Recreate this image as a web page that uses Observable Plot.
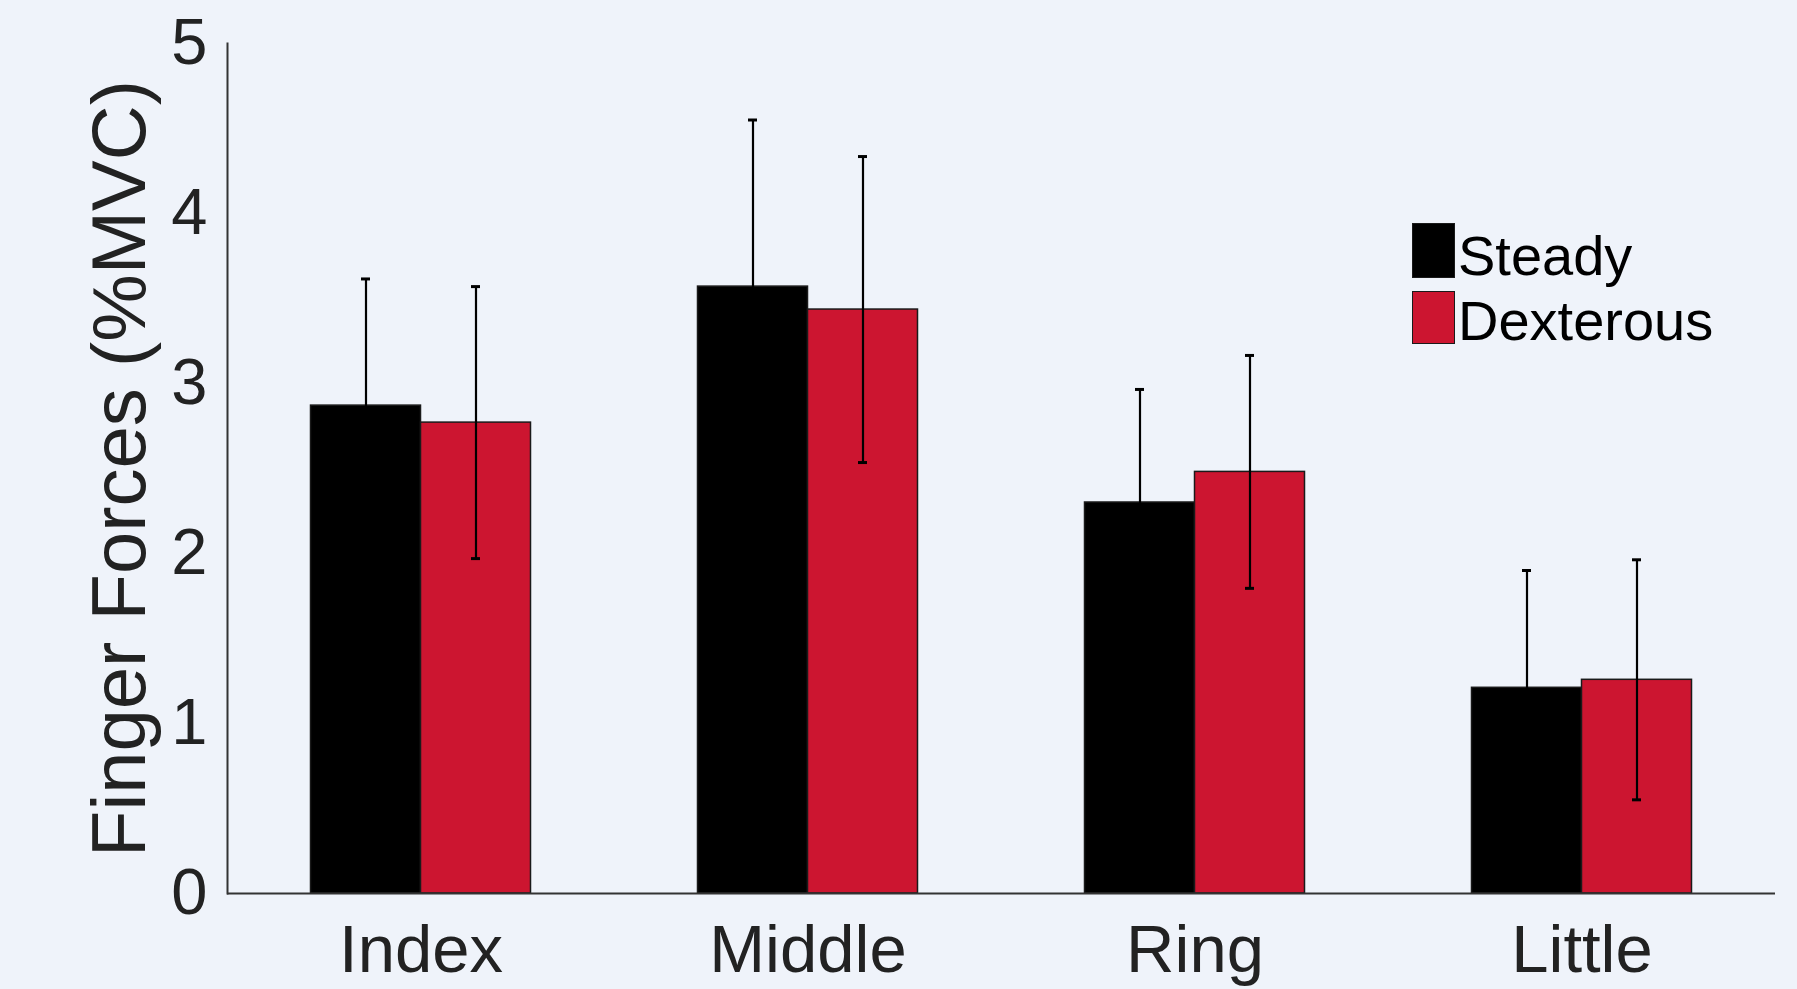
<!DOCTYPE html>
<html>
<head>
<meta charset="utf-8">
<script src="https://cdn.jsdelivr.net/npm/d3@7"></script>
<script src="https://cdn.jsdelivr.net/npm/@observablehq/plot@0.6"></script>
<style>
  html, body { margin: 0; padding: 0; background: #eff3fa; }
  body { width: 1797px; height: 989px; overflow: hidden; position: relative; font-family: "Liberation Sans", Arial, sans-serif; }
  #chart { position: absolute; left: 0; top: 0; }
  .legend { position: absolute; left: 1412px; top: 223px; font-family: "Liberation Sans", Arial, sans-serif; color: #000; }
  .legend .sw { position: absolute; left: 0; width: 43px; box-sizing: border-box; border: 1.5px solid #1a1a1a; }
  .legend .lab { position: absolute; left: 46px; font-size: 56px; line-height: 1; white-space: nowrap; }
</style>
</head>
<body>
<div id="chart"></div>
<div class="legend" id="legend"></div>
<script>
// ---- data ----
const fingers = ["Index", "Middle", "Ring", "Little"];
const conditions = ["Steady", "Dexterous"];
const steadyMean = [2.87, 3.57, 2.30, 1.21];
const steadySD   = [0.745, 0.98, 0.665, 0.69];
const dexMean    = [2.77, 3.435, 2.48, 1.257];
const dexSD      = [0.80, 0.90, 0.685, 0.706];
const yTicks = [0, 1, 2, 3, 4, 5];
const colors = ["#000000", "#cc1530"];
const yLabel = "Finger Forces (%MVC)";

const rows = [];
fingers.forEach((f, i) => {
  rows.push({finger: f, condition: conditions[0], mean: steadyMean[i], sd: steadySD[i]});
  rows.push({finger: f, condition: conditions[1], mean: dexMean[i], sd: dexSD[i]});
});

const font = "'Liberation Sans', Arial, sans-serif";
const plot = Plot.plot({
  width: 1797,
  height: 989,
  marginLeft: 226.5,
  marginRight: 21.7,
  marginTop: 43,
  marginBottom: 96,
  style: {background: "transparent", fontFamily: font, color: "#222"},
  fx: {domain: fingers, padding: 0, label: null},
  x: {domain: conditions, paddingInner: 0, paddingOuter: 0.744, axis: null},
  y: {domain: [0, 5]},
  color: {domain: conditions, range: colors},
  marks: [
    Plot.barY(rows, {fx: "finger", x: "condition", y: "mean", fill: "condition", stroke: "#1a1a1a", strokeWidth: 1.5}),
    Plot.ruleX(rows, {fx: "finger", x: "condition", y1: d => d.mean - d.sd, y2: d => d.mean + d.sd, stroke: "#000", strokeWidth: 2.2}),
    Plot.tickY(rows, {fx: "finger", x: "condition", y: d => d.mean + d.sd, stroke: "#000", strokeWidth: 3, insetLeft: 50.5, insetRight: 50.5}),
    Plot.tickY(rows, {fx: "finger", x: "condition", y: d => d.mean - d.sd, stroke: "#000", strokeWidth: 3, insetLeft: 50.5, insetRight: 50.5}),
    Plot.ruleY([0], {stroke: "#333", strokeWidth: 2}),
    Plot.frame({anchor: "left", facetAnchor: "left", stroke: "#333", strokeWidth: 2}),
    Plot.axisY({ticks: yTicks, tickSize: 0, tickPadding: 20, fontSize: 65, tickFormat: d3.format("d"),
      label: yLabel, labelAnchor: "center", labelArrow: "none", labelOffset: 136}),
    Plot.axisFx({anchor: "bottom", tickSize: 0, tickPadding: 31, fontSize: 67, label: null})
  ]
});
document.getElementById("chart").appendChild(plot);

// y-axis label font size
plot.querySelectorAll("text").forEach(t => {
  if (t.textContent === yLabel) t.setAttribute("font-size", 76);
});

// legend
const leg = document.getElementById("legend");
const swTop = [0, 68], swH = [55, 53], labTop = [5, 70];
conditions.forEach((c, i) => {
  const sw = document.createElement("div");
  sw.className = "sw";
  sw.style.top = swTop[i] + "px";
  sw.style.height = swH[i] + "px";
  sw.style.background = colors[i];
  leg.appendChild(sw);
  const lab = document.createElement("div");
  lab.className = "lab";
  lab.style.top = labTop[i] + "px";
  lab.textContent = c;
  leg.appendChild(lab);
});
</script>
</body>
</html>
